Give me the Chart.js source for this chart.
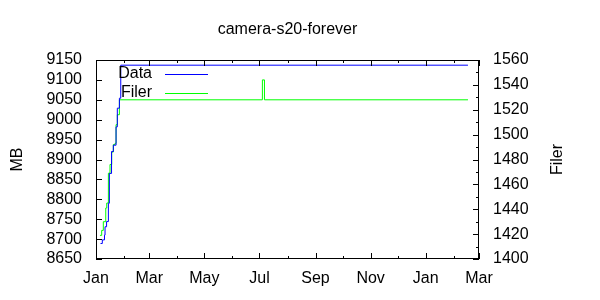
<!DOCTYPE html>
<html>
<head>
<meta charset="utf-8">
<script src="https://cdn.jsdelivr.net/npm/chart.js@4"></script>
<style>
  body { margin: 0; background: #fff; }
  #wrap { width: 600px; height: 300px; }
</style>
</head>
<body>
<div id="wrap"><canvas id="myChart"></canvas></div>
<script>
// days counted from Jan 1 (first year), x axis runs to Mar 1 of next year
const monthDays = [0, 31, 59, 90, 120, 151, 181, 212, 243, 273, 304, 334, 365, 396, 424];
const monthLabels = ['Jan', '', 'Mar', '', 'May', '', 'Jul', '', 'Sep', '', 'Nov', '', 'Jan', '', 'Mar'];

// Data (MB)
const dataDays = [5, 7, 9.4, 10, 11.7, 13.7, 14.8, 17.2, 19.2, 22.2, 23.6, 25.9, 27.4, 411.8];
const dataMB   = [8689, 8698, 8710, 8731, 8744, 8790, 8865, 8920, 8936, 8982, 9029, 9054, 9137, 9137];

// Filer (number of files)
const filerDays  = [4.4, 6.3, 8.1, 10.8, 11.9, 13.7, 15.5, 17.4, 19.2, 21.1, 22.2, 23.6, 25.9, 184.2, 186.5, 411.8];
const filerCount = [1419, 1423, 1430, 1441, 1445, 1469, 1476, 1486, 1492, 1493, 1508, 1516, 1528, 1544, 1528, 1528];

const chartTitle = 'camera-s20-forever';
const FONT = '"Liberation Sans", Arial, sans-serif';

Chart.defaults.font.family = FONT;
Chart.defaults.font.size = 16;
Chart.defaults.color = '#000';

const toXY = (xs, ys) => xs.map((x, i) => ({x: x, y: ys[i]}));

// frame, inward ticks, titles and key like the gnuplot original
const framePlugin = {
  id: 'frame',
  afterDraw(chart) {
    const ctx = chart.ctx;
    const a = chart.chartArea;
    const sx = chart.scales.x, sy = chart.scales.y, sy2 = chart.scales.y2;
    ctx.save();
    ctx.strokeStyle = '#000';
    ctx.lineWidth = 1;
    ctx.strokeRect(a.left + 0.5, a.top + 0.5, a.right - a.left - 1, a.bottom - a.top - 1);
    ctx.beginPath();
    monthDays.forEach((d, i) => {
      const px = Math.round(sx.getPixelForValue(d)) + 0.5;
      const len = monthLabels[i] ? 6 : 3;
      ctx.moveTo(px, a.bottom); ctx.lineTo(px, a.bottom - len);
      ctx.moveTo(px, a.top); ctx.lineTo(px, a.top + len);
    });
    for (let v = 8650; v <= 9150; v += 50) {
      const py = Math.round(sy.getPixelForValue(v)) + 0.5;
      ctx.moveTo(a.left, py); ctx.lineTo(a.left + 6, py);
    }
    for (let v = 1400; v <= 1560; v += 10) {
      const py = Math.round(sy2.getPixelForValue(v)) + 0.5;
      const len = v % 20 === 0 ? 6 : 3;
      ctx.moveTo(a.right, py); ctx.lineTo(a.right - len, py);
    }
    ctx.stroke();

    ctx.fillStyle = '#000';
    ctx.font = '16px ' + FONT;
    ctx.textAlign = 'center';
    ctx.textBaseline = 'middle';
    ctx.fillText(chartTitle, (a.left + a.right) / 2, 30);

    const cy = (a.top + a.bottom) / 2;
    ctx.save();
    ctx.translate(18, cy);
    ctx.rotate(-Math.PI / 2);
    ctx.fillText('MB', 0, 0);
    ctx.restore();
    ctx.save();
    ctx.translate(558, cy);
    ctx.rotate(-Math.PI / 2);
    ctx.fillText('Filer', 0, 0);
    ctx.restore();

    // key
    ctx.textAlign = 'right';
    chart.data.datasets.forEach((ds, i) => {
      const ky = 74 + i * 19;
      ctx.fillStyle = '#000';
      ctx.fillText(ds.label, 152, ky);
      ctx.strokeStyle = ds.borderColor;
      ctx.beginPath();
      ctx.moveTo(165, Math.round(ky) + 0.5);
      ctx.lineTo(208, Math.round(ky) + 0.5);
      ctx.stroke();
    });
    ctx.restore();
  }
};

new Chart(document.getElementById('myChart'), {
  type: 'line',
  data: {
    datasets: [{
      label: 'Data',
      data: toXY(dataDays, dataMB),
      yAxisID: 'y',
      borderColor: '#0000ff',
      borderWidth: 1,
      pointRadius: 0,
      stepped: true,
      fill: false
    }, {
      label: 'Filer',
      data: toXY(filerDays, filerCount),
      yAxisID: 'y2',
      borderColor: '#00ff00',
      borderWidth: 1,
      pointRadius: 0,
      stepped: true,
      fill: false
    }]
  },
  options: {
    responsive: true,
    maintainAspectRatio: false,
    animation: false,
    layout: { padding: { top: 60, left: 0, right: 0, bottom: 0 } },
    plugins: {
      legend: { display: false },
      tooltip: { enabled: false }
    },
    scales: {
      x: {
        type: 'linear',
        min: 0,
        max: 424,
        grid: { display: false, drawTicks: false },
        border: { display: false },
        afterBuildTicks: (scale) => { scale.ticks = monthDays.map(v => ({value: v})); },
        afterFit: (scale) => { scale.height = 41; },
        ticks: {
          autoSkip: false,
          maxRotation: 0,
          padding: 10,
          callback: (value, index) => monthLabels[index]
        }
      },
      y: {
        position: 'left',
        min: 8650,
        max: 9150,
        grid: { display: false, drawTicks: false },
        border: { display: false },
        afterFit: (scale) => { scale.width = 96; },
        ticks: { stepSize: 50, padding: 14, autoSkip: false, callback: (v) => String(v) }
      },
      y2: {
        position: 'right',
        min: 1400,
        max: 1560,
        grid: { display: false, drawTicks: false },
        border: { display: false },
        afterFit: (scale) => { scale.width = 121; },
        ticks: { stepSize: 20, padding: 14, autoSkip: false, callback: (v) => String(v) }
      }
    }
  },
  plugins: [framePlugin]
});
</script>
</body>
</html>
